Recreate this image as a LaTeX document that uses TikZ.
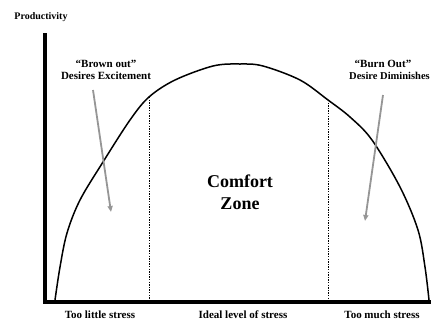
\documentclass[tikz,border=0pt]{standalone}
\usepackage{fontspec}
\setmainfont{Liberation Serif}
\usetikzlibrary{arrows.meta}
\definecolor{hintGray}{RGB}{150,150,150}
\tikzset{
    axisline/.style={line width=3.6pt, draw=black, line join=miter},
    curveline/.style={line width=1.5pt, draw=black},
    zoneline/.style={line width=0.6pt, draw=black, dash pattern=on 1.3pt off 1.3pt},
    hint/.style={-{Triangle[length=6pt, width=5pt]}, line width=1.8pt, draw=hintGray},
    lbl/.style={font=\bfseries\fontsize{11}{13}\selectfont, inner sep=0pt},
    bigzone/.style={font=\bfseries\fontsize{18}{22}\selectfont, align=center, inner sep=0pt}
}

\begin{document}
\begin{tikzpicture}[x=1pt, y=-1pt]
      \useasboundingbox (0,0) rectangle (431,322);
      % axes
      \coordinate (yTop)   at (45,33);
      \coordinate (origin) at (45,302);
      \coordinate (xEnd)   at (433,302);
      \draw[axisline] (yTop) -- (origin) -- (xEnd);
      \node[lbl, font=\bfseries\fontsize{10}{12}\selectfont] (prod) at (41,17) {Productivity};
      % stress curve
      \draw[curveline] plot[smooth, tension=0.55] coordinates {
          (55,300) (60,267) (67,233) (80,200) (103,162) (130,120) (149,97)
          (175,80) (213,66) (240,64) (263,66) (300,80) (328,100) (350,117)
          (372,140) (400,187) (418,230) (425,267) (429,300)};
      % comfort zone borders
      \coordinate (lzTop) at (149,97);  \coordinate (lzBot) at (149,300);
      \coordinate (rzTop) at (328,100); \coordinate (rzBot) at (328,300);
      \draw[zoneline] (lzTop) -- (lzBot);
      \draw[zoneline] (rzTop) -- (rzBot);
      \node[bigzone] (comfort) at (240,192) {Comfort\\Zone};
      % side labels
      \node[lbl] (brownTitle) at (106,64) {“Brown out”};
      \node[lbl] (brownText)  at (106,76) {Desires Excitement};
      \node[lbl] (burnTitle)  at (383,64) {“Burn Out”};
      \node[lbl, font=\bfseries\fontsize{10.5}{12}\selectfont, anchor=east] (burnText) at (430,76) {Desire Diminishes};
      \coordinate (brownFrom) at (93,90);  \coordinate (brownTo) at (111,212);
      \coordinate (burnFrom)  at (383,95); \coordinate (burnTo)  at (365,221);
      \draw[hint] (brownFrom) -- (brownTo);
      \draw[hint] (burnFrom) -- (burnTo);
      % stress levels
      \node[lbl] (low)   at (100,315) {Too little stress};
      \node[lbl] (ideal) at (243,315) {Ideal level of stress};
      \node[lbl] (high)  at (382,315) {Too much stress};
    \end{tikzpicture}
\end{document}
